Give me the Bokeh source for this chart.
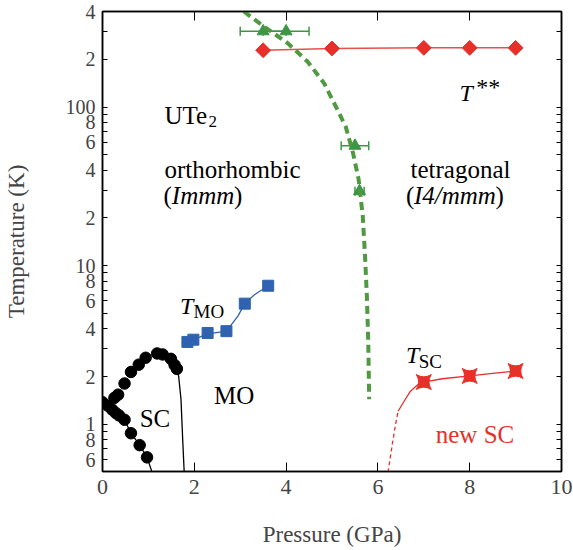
import numpy as np
from bokeh.plotting import figure
from bokeh.models import (Range1d, FixedTicker, LinearAxis, LogAxis, CustomJSTickFormatter,
                          Label, Whisker, TeeHead, ColumnDataSource)
from bokeh.embed import file_html
from bokeh.resources import INLINE

FONT = "Liberation Serif"

# ---------------- data ----------------
# T** (red diamonds)
tss_p = [3.5, 5.0, 7.0, 8.0, 9.0]
tss_t = [228, 234, 236, 236, 236]

# structural transition (green triangles) with pressure error bars
str_p = [3.5, 4.0, 5.5, 5.6]
str_t = [300, 300, 57, 29.5]
str_perr = [0.5, 0.5, 0.3, 0.1]

# orthorhombic / tetragonal boundary (green dashed)
bnd_p = [3.08, 3.53, 4.04, 4.47, 4.83, 5.12, 5.30, 5.46, 5.58, 5.67, 5.72, 5.76, 5.79, 5.81]
bnd_t = [400, 320, 252, 193, 141, 96, 75, 51, 35, 20.5, 11.5, 6.4, 3.3, 1.44]

# T_MO (blue squares) and guide line
mo_p = [1.85, 1.98, 2.29, 2.70, 3.10, 3.61]
mo_t = [3.31, 3.42, 3.77, 3.87, 5.77, 7.48]
mo_line_p = [1.85, 2.0, 2.3, 2.7, 2.95, 3.10, 3.31, 3.61]
mo_line_t = [3.31, 3.45, 3.72, 3.87, 4.81, 5.77, 6.57, 7.48]

# SC (black circles)
sc_p = [0.0, 0.12, 0.21, 0.29, 0.36, 0.48, 0.62, 0.81, 0.97,
        0.26, 0.34, 0.48, 0.62, 0.79, 0.94, 1.19, 1.31, 1.49, 1.57, 1.62]
sc_t = [1.38, 1.31, 1.24, 1.18, 1.14, 1.07, 0.88, 0.74, 0.62,
        1.47, 1.54, 1.81, 2.14, 2.38, 2.63, 2.80, 2.76, 2.59, 2.37, 2.24]
sc_edge_p = [1.62, 1.66, 1.71, 1.75, 1.78]
sc_edge_t = [2.24, 2.0, 1.44, 0.77, 0.5]
sc_low_p = [0.0, 0.48, 0.62, 0.81, 0.97, 1.08]
sc_low_t = [1.38, 1.07, 0.88, 0.74, 0.62, 0.5]

# new SC (red stars) and guide lines
nsc_p = [7.0, 8.0, 9.0]
nsc_t = [1.85, 2.02, 2.17]
nsc_line_p = [6.44, 6.57, 6.71, 6.85, 7.0, 7.4, 8.0, 8.5, 9.0]
nsc_line_t = [1.21, 1.40, 1.62, 1.76, 1.85, 1.94, 2.02, 2.10, 2.17]
nsc_dash_p = [6.22, 6.32, 6.39, 6.44]
nsc_dash_t = [0.5, 0.77, 1.02, 1.21]

# ticks
x_ticks = [0, 2, 4, 6, 8, 10]
x_top_ticks = [2, 4, 6, 8]
y_ticks = [0.6, 0.8, 1, 2, 4, 6, 8, 10, 20, 40, 60, 80, 100, 200, 400]
y_tick_labels = ["6", "8", "1", "2", "4", "6", "8", "10", "2", "4", "6", "8", "100", "2", "4"]
y_minor = [0.7, 0.9, 3, 5, 7, 9, 30, 50, 70, 90, 300]

RED = "#e63029"
RED_L = "#e8504a"
GREEN = "#3b9645"
GREEN_D = "#4f9a40"
BLUE = "#2f62b0"

# ---------------- figure ----------------
p = figure(width=573, height=550, x_range=Range1d(0, 10), y_range=Range1d(0.505, 400),
           y_axis_type="log", output_backend="svg", toolbar_location=None,
           min_border_left=100, min_border_right=12, min_border_top=11, min_border_bottom=79,
           background_fill_color="white", border_fill_color="white")
p.grid.visible = False
p.outline_line_color = "black"
p.outline_line_width = 1.5

fmt = CustomJSTickFormatter(args=dict(vals=y_ticks, labs=y_tick_labels), code="""
let out = "";
for (let i = 0; i < vals.length; i++) {
  if (Math.abs(vals[i] - tick) <= 1e-6 * vals[i]) { out = labs[i]; }
}
return out;
""")
blank = CustomJSTickFormatter(code="return '';")

xa = p.xaxis[0]
xa.ticker = FixedTicker(ticks=x_ticks, minor_ticks=[])
xa.major_tick_in = 9
xa.major_tick_out = 0
xa.minor_tick_line_color = None
xa.major_label_text_font = FONT
xa.major_label_text_font_size = "22px"
xa.major_label_standoff = 8
xa.axis_label = "Pressure (GPa)"
xa.axis_label_text_font = FONT
xa.axis_label_text_font_style = "normal"
xa.axis_label_text_font_size = "23px"
xa.axis_label_standoff = 25
xa.axis_line_width = 1.5

ya = p.yaxis[0]
ya.ticker = FixedTicker(ticks=y_ticks, minor_ticks=y_minor)
ya.formatter = fmt
ya.major_tick_in = 5
ya.major_tick_out = 0
ya.minor_tick_in = 5
ya.minor_tick_out = 0
ya.major_label_text_font = FONT
ya.major_label_text_font_size = "20px"
ya.major_label_standoff = 7
ya.axis_label = "Temperature (K)"
ya.axis_label_text_font = FONT
ya.axis_label_text_font_style = "normal"
ya.axis_label_text_font_size = "23px"
ya.axis_label_standoff = 34
ya.axis_line_width = 1.5

ra = LogAxis(ticker=FixedTicker(ticks=y_ticks, minor_ticks=y_minor), formatter=blank,
             major_tick_in=5, major_tick_out=0, minor_tick_in=5, minor_tick_out=0,
             major_label_text_font_size="1px", major_label_standoff=0, axis_line_width=1.5)
p.add_layout(ra, "right")
ta = LinearAxis(ticker=FixedTicker(ticks=x_top_ticks, minor_ticks=[]), formatter=blank,
                major_tick_in=9, major_tick_out=0, minor_tick_line_color=None,
                major_label_text_font_size="1px", major_label_standoff=0, axis_line_width=1.5)
p.add_layout(ta, "above")

# ---------------- lines ----------------
p.line(tss_p, tss_t, line_color=RED_L, line_width=1.5)
p.line(mo_line_p, mo_line_t, line_color=BLUE, line_width=1.3)
p.line(sc_edge_p, sc_edge_t, line_color="black", line_width=1.3)
p.line(sc_low_p, sc_low_t, line_color="black", line_width=1.3)
p.line(nsc_line_p, nsc_line_t, line_color=RED, line_width=1.3)
p.line(nsc_dash_p, nsc_dash_t, line_color=RED, line_width=1.3, line_dash="4 3")

# error bars
src = ColumnDataSource(dict(x=str_p, y=str_t,
                            lo=[a - e for a, e in zip(str_p, str_perr)],
                            hi=[a + e for a, e in zip(str_p, str_perr)]))
w = Whisker(source=src, base="y", lower="lo", upper="hi", dimension="width",
            line_color=GREEN, line_width=1.5,
            upper_head=TeeHead(size=9, line_color=GREEN, line_width=1.5),
            lower_head=TeeHead(size=9, line_color=GREEN, line_width=1.5))
p.add_layout(w)

# ---------------- markers ----------------
p.scatter(tss_p, tss_t, marker="square", angle=np.pi / 4, size=10.5,
          fill_color=RED, line_color=RED)
p.scatter(str_p, str_t, marker="triangle", size=12, fill_color=GREEN, line_color=GREEN)
p.scatter(mo_p, mo_t, marker="square", size=11, fill_color=BLUE, line_color=BLUE)
p.scatter(sc_p, sc_t, marker="circle", size=11.5, fill_color="black", line_color="black")
p.scatter(nsc_p, nsc_t, marker="square_pin", size=15, fill_color=RED, line_color=RED)

p.line(bnd_p, bnd_t, line_color=GREEN_D, line_width=4, line_dash="8 5")

# ---------------- texts ----------------
def lab(x, y, text, size="25px", style="normal", color="black"):
    p.add_layout(Label(x=x, y=y, text=text, x_units="data", y_units="data",
                       text_font=FONT, text_font_size=size, text_font_style=style,
                       text_color=color, text_align="left", text_baseline="alphabetic"))

lab(1.35, 88.7, "UTe")
lab(2.31, 81.0, "2", size="17px")
lab(1.35, 40.6, "orthorhombic")
lab(1.33, 27.8, "(")
lab(1.51, 27.8, "Immm", style="italic")
lab(2.863, 27.8, ")")
lab(6.71, 40.6, "tetragonal")
lab(6.61, 27.8, "(")
lab(6.785, 27.8, "I4/mmm", style="italic")
lab(8.562, 27.8, ")")
lab(7.78, 123.2, "T", size="24px", style="italic")
lab(8.14, 133, "**", size="24px")
lab(1.69, 5.58, "T", size="24px", style="italic")
lab(1.985, 5.12, "MO", size="19px")
lab(0.81, 1.086, "SC")
lab(2.43, 1.515, "MO")
lab(6.61, 2.756, "T", size="24px", style="italic")
lab(6.89, 2.505, "SC", size="19px")
lab(7.26, 0.865, "new SC", color=RED)

open("out.html", "w").write(file_html(p, INLINE))
